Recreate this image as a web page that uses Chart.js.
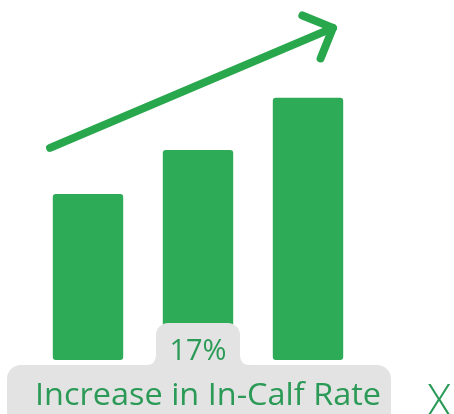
<!DOCTYPE html>
<html>
<head>
<meta charset="utf-8">
<script src="https://cdn.jsdelivr.net/npm/chart.js@4/dist/chart.umd.min.js"></script>
<style>
    html, body { margin: 0; padding: 0; background: #ffffff; overflow: hidden; }
    #wrap { width: 454px; height: 414px; position: relative; }
</style>
</head>
<body>
<div id="wrap"><canvas id="grafico" width="454" height="414"></canvas></div>
<script>
// valores
const categorias = ['Antes', 'Meio', 'Depois'];
const valores = [47.4, 60, 74.9];
const seta_x = [-0.345, 2.227];
const seta_y = [60.6, 94.9];
const rotulo_pct = '17%';
const rotulo_txt = 'Increase in In-Calf Rate';
const rotulo_x = 'X';

const verde = '#2eab57';
const verde_seta = '#29a74d';
const verde_txt = '#2a9a56';
const cinza = '#e3e3e3';

function caixa(ctx, x, y, w, h, r){
    ctx.beginPath();
    ctx.roundRect(x, y, w, h, r);
    ctx.fill();
}

const extras = {
    id: 'extras',
    afterDatasetsDraw(chart){
        const ctx = chart.ctx;
        const barras = chart.getDatasetMeta(0).data;
        const linha = chart.getDatasetMeta(1).data;

        // ponta da seta
        const a = linha[0], b = linha[1];
        const ang = Math.atan2(b.y - a.y, b.x - a.x);
        ctx.save();
        ctx.strokeStyle = verde_seta;
        ctx.lineWidth = 8;
        ctx.lineCap = 'round';
        ctx.lineJoin = 'round';
        ctx.beginPath();
        ctx.moveTo(b.x + 33 * Math.cos(ang + Math.PI * 0.75), b.y + 33 * Math.sin(ang + Math.PI * 0.75));
        ctx.lineTo(b.x, b.y);
        ctx.lineTo(b.x + 33 * Math.cos(ang - Math.PI * 0.75), b.y + 33 * Math.sin(ang - Math.PI * 0.75));
        ctx.stroke();

        // caixas do rotulo
        const cx = barras[1].x;
        ctx.fillStyle = cinza;
        caixa(ctx, cx - 42, 323, 84, 60, 12);
        caixa(ctx, 7, 365, 384, 70, 14);
        // concordancia entre as caixas
        ctx.beginPath();
        ctx.moveTo(cx - 52, 365);
        ctx.quadraticCurveTo(cx - 42, 365, cx - 42, 355);
        ctx.lineTo(cx - 42, 366);
        ctx.closePath();
        ctx.fill();
        ctx.beginPath();
        ctx.moveTo(cx + 52, 365);
        ctx.quadraticCurveTo(cx + 42, 365, cx + 42, 355);
        ctx.lineTo(cx + 42, 366);
        ctx.closePath();
        ctx.fill();

        ctx.fillStyle = verde_txt;
        ctx.textAlign = 'center';
        ctx.textBaseline = 'alphabetic';
        ctx.font = '500 29px "Open Sans"';
        ctx.fillText(rotulo_pct, cx, 360);
        ctx.font = '500 31px "Open Sans"';
        ctx.save();
        const larg = ctx.measureText(rotulo_txt).width;
        ctx.translate(208, 405);
        ctx.scale(346 / larg, 1);
        ctx.fillText(rotulo_txt, 0, 0);
        ctx.restore();
        ctx.font = '300 44px "Open Sans"';
        ctx.fillText(rotulo_x, 439, 416);
        ctx.restore();
    }
};

new Chart(document.getElementById('grafico'), {
    type: 'bar',
    data: {
        labels: categorias,
        datasets: [{
            type: 'bar',
            data: valores,
            backgroundColor: verde,
            borderRadius: 3,
            borderSkipped: false,
            grouped: false,
            categoryPercentage: 1,
            barPercentage: 0.64
        }, {
            type: 'line',
            xAxisID: 'xs',
            data: [{x: seta_x[0], y: seta_y[0]}, {x: seta_x[1], y: seta_y[1]}],
            borderColor: verde_seta,
            borderWidth: 8,
            borderCapStyle: 'round',
            pointRadius: 0
        }]
    },
    options: {
        responsive: false,
        animation: false,
        layout: { padding: { left: 33, right: 91, top: 10, bottom: 54 } },
        plugins: { legend: { display: false }, tooltip: { enabled: false } },
        scales: {
            x: { type: 'category', display: false, offset: true },
            xs: { type: 'linear', display: false, offset: false, min: -0.5, max: 2.5 },
            y: { display: false, min: 0, max: 100 }
        }
    },
    plugins: [extras]
});
</script>
</body>
</html>
